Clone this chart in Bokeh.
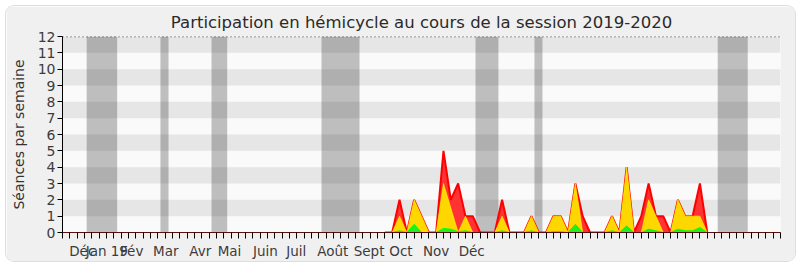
from bokeh.plotting import figure
from bokeh.models import Range1d, FixedTicker, Span
from bokeh.embed import file_html
from bokeh.resources import INLINE

# ---- data ----
title_text = "Participation en hémicycle au cours de la session 2019-2020"
y_label = "Séances par semaine"

month_labels = ["Déc", "Jan 19", "Fév", "Mar", "Avr", "Mai", "Juin", "Juil",
                "Août", "Sept", "Oct", "Nov", "Déc"]
month_pos = [2.7, 6.05, 9.45, 14.1, 18.8, 22.8, 27.7, 31.9, 36.9, 41.85,
             46.2, 51.0, 55.85]

n_weeks = 98

vac_start = [3.3, 13.37, 20.34, 35.35, 56.37, 64.42, 89.43]
vac_end = [7.46, 14.47, 22.48, 40.54, 59.5, 65.51, 93.53]

weeks = list(range(44, 89))
presence = [0, 0, 2, 0, 2, 1, 0, 0, 5, 2, 3, 1, 1, 0, 0, 0, 2, 0, 0, 0,
            1, 0, 0, 1, 1, 0, 3, 1, 0, 0, 0, 1, 0, 4, 0, 1, 3, 1, 1, 0,
            2, 1, 1, 3, 0]
interventions = [0, 0, 1, 0, 2, 1, 0, 0, 3, 1.5, 0, 1, 0, 0, 0, 0, 1, 0, 0, 0,
                 1, 0, 0, 1, 1, 0, 3, 0, 0, 0, 0, 1, 0, 4, 0, 0, 2, 1, 0, 0,
                 2, 1, 1, 1, 0]
questions = [0, 0, 0.1, 0, 0.5, 0, 0, 0, 0.25, 0.2, 0.05, 0.1, 0, 0, 0, 0, 0.1, 0, 0, 0,
             0.1, 0, 0, 0.05, 0.05, 0, 0.5, 0, 0, 0, 0, 0.1, 0, 0.4, 0, 0, 0.2, 0.1, 0, 0,
             0.2, 0.1, 0.1, 0.3, 0]

FONT = "DejaVu Sans"

p = figure(width=789, height=255, output_backend="svg", toolbar_location=None,
           x_range=Range1d(0, n_weeks), y_range=Range1d(0, 12),
           min_border_left=56, min_border_right=15, min_border_top=30,
           min_border_bottom=27, margin=(6, 5, 6, 6),
           styles={"border-radius": "8px", "overflow": "hidden",
                   "box-shadow": "0 0 0 1px #dedede"})
p.border_fill_color = "#f0f0f0"
p.background_fill_color = "#fafafa"
p.outline_line_color = None
p.grid.visible = False

p.title.text = title_text
p.title.align = "center"
p.title.text_font = FONT
p.title.text_font_size = "16.5px"
p.title.text_font_style = "normal"
p.title.text_color = "#2a2a2a"
p.title.standoff = 9

# horizontal stripes
stripe_bottoms = list(range(1, 12, 2))
p.quad(left=0, right=n_weeks, bottom=stripe_bottoms,
       top=[b + 1 for b in stripe_bottoms], fill_color="#e6e6e6", line_color=None)

# holiday bands
p.quad(left=vac_start, right=vac_end, bottom=0, top=12,
       fill_color="black", fill_alpha=0.24, line_color=None)

# series
p.varea(x=weeks, y1=0, y2=presence, fill_color="#ff3333")
p.line(weeks, presence, line_color="#ff0000", line_width=2)
p.varea(x=weeks, y1=0, y2=interventions, fill_color="#ffd700")
p.line(weeks, interventions, line_color="#ffff00", line_width=1, line_alpha=0.6)
p.varea(x=weeks, y1=0, y2=questions, fill_color="#22ee22")
p.line(weeks, questions, line_color="#00ff00", line_width=1)

# dotted top line
p.add_layout(Span(location=12, dimension="width", line_color="black",
                  line_dash="1 3", line_width=1.5))

# axes
xa = p.xaxis[0]
xa.ticker = FixedTicker(ticks=month_pos, minor_ticks=list(range(0, n_weeks + 1)))
xa.major_label_overrides = {pos: lab for pos, lab in zip(month_pos, month_labels)}
xa.major_tick_out = 0
xa.major_tick_in = 0
xa.minor_tick_out = 6
xa.minor_tick_in = 0
xa.minor_tick_line_color = "black"
xa.axis_line_color = "#5a1010"
xa.major_label_text_font = FONT
xa.major_label_text_font_size = "13.5px"
xa.major_label_text_color = "#3c3c3c"
xa.major_label_standoff = 4

ya = p.yaxis[0]
ya.ticker = FixedTicker(ticks=list(range(0, 13)), minor_ticks=[])
ya.major_tick_out = 5
ya.major_tick_in = 0
ya.minor_tick_out = 0
ya.minor_tick_in = 0
ya.axis_line_color = "black"
ya.major_tick_line_color = "black"
ya.major_label_text_font = FONT
ya.major_label_text_font_size = "14px"
ya.major_label_text_color = "#3c3c3c"
ya.major_label_standoff = 2
ya.axis_label = y_label
ya.axis_label_text_font = FONT
ya.axis_label_text_font_size = "14px"
ya.axis_label_text_font_style = "normal"
ya.axis_label_text_color = "#333333"
ya.axis_label_standoff = 8

open("out.html", "w").write(file_html(p, INLINE))
